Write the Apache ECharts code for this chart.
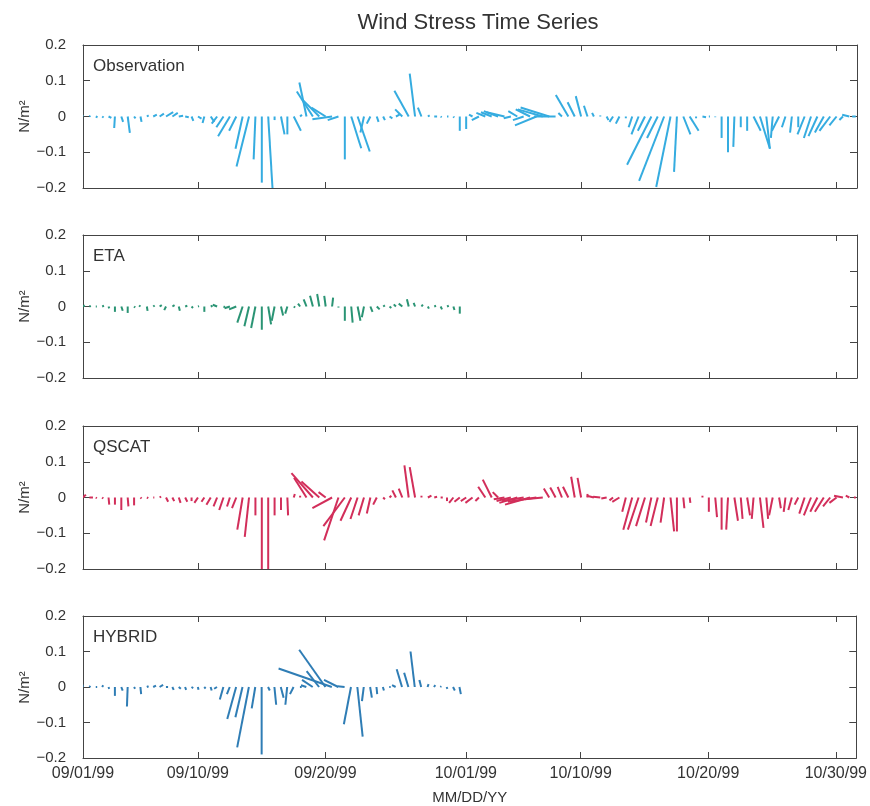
<!DOCTYPE html>
<html>
<head>
<meta charset="utf-8">
<script src="https://cdn.jsdelivr.net/npm/echarts@6/dist/echarts.min.js"></script>
<style>html,body{margin:0;padding:0;background:#fff}#chart{width:870px;height:806px}</style>
</head>
<body>
<div id="chart"></div>
<script>
// ---- data: wind stress components (u east, v north), N/m^2, sampled every 12 h from 09/01/99 ----
const stepDays = 0.5;
const xTickDays = [0, 9, 19, 30, 39, 49, 59];
const xTickLabels = ['09/01/99', '09/10/99', '09/20/99', '10/01/99', '10/10/99', '10/20/99', '10/30/99'];
const yTicks = [-0.2, -0.1, 0, 0.1, 0.2];
const panelNames = ['Observation', 'ETA', 'QSCAT', 'HYBRID'];

const obsU = [-0.007,0.003,0.005,0.004,0.008,-0.002,0.005,0.006,0.004,0.003,0.005,0.01,0.012,0.02,0.015,0.012,0.01,0.005,0.01,-0.005,0.01,-0.015,-0.02,-0.033,
  -0.02,-0.02,-0.035,-0.005,0.0,0.012,0.0,0.01,0.0,0.02,0.005,-0.02,-0.045,-0.05,-0.04,-0.055,-0.03,0.0,0.028,0.034,-0.01,-0.01,0.005,0.005,0.008,0.01,-0.02,-0.04,-0.015,-0.01,0.005,0.008,0.003,0.004,0.002,0.0,
  0.0,-0.01,-0.02,-0.025,-0.03,-0.04,-0.05,-0.02,-0.025,-0.03,-0.04,-0.06,-0.07,-0.08,-0.06,-0.01,-0.035,-0.02,-0.015,-0.01,-0.005,0.0,0.005,-0.01,-0.01,0.0,-0.01,-0.02,-0.02,-0.068,-0.03,-0.07,-0.04,-0.008,0.02,0.025,0.0,0.01,0.003,0.0,
  0.0,0.0,-0.003,0.0,0.0,0.02,0.028,0.01,-0.005,-0.02,-0.01,-0.005,0.0,-0.02,-0.02,-0.025,-0.025,-0.03,-0.02,-0.01,-0.02,-0.01];
const obsV = [0.01,0.002,-0.002,-0.003,-0.004,-0.032,-0.015,-0.046,-0.005,-0.015,0.003,0.005,0.008,0.012,0.01,0.002,-0.002,-0.012,-0.006,-0.018,-0.015,-0.02,-0.03,-0.055,
  -0.04,-0.09,-0.14,-0.12,-0.185,-0.2,-0.01,-0.05,-0.05,-0.04,0.005,0.095,0.07,0.05,0.025,-0.008,-0.01,-0.12,-0.089,-0.098,-0.045,-0.02,-0.015,-0.01,-0.005,0.005,0.02,0.072,0.12,0.025,0.003,0.0,-0.002,0.0,-0.003,-0.04,
  -0.035,0.005,-0.01,0.01,0.012,0.015,0.012,-0.005,0.015,-0.01,0.02,-0.025,0.02,0.025,0.0,0.01,0.06,0.04,0.057,0.03,0.01,0.003,-0.01,-0.015,-0.02,-0.005,-0.03,-0.05,-0.04,-0.135,-0.06,-0.18,-0.197,-0.155,-0.05,-0.04,-0.005,-0.002,0.0,-0.002,
  -0.06,-0.1,-0.085,-0.03,-0.04,-0.04,-0.09,-0.09,-0.06,-0.04,-0.03,-0.045,-0.03,-0.05,-0.06,-0.055,-0.045,-0.04,-0.025,-0.01,0.005,0.0];

const etaU = [0.005,0.004,0.003,0.005,0.002,0.0,0.004,0.0,0.003,-0.004,0.002,0.004,0.006,-0.005,0.006,0.003,0.006,0.004,0.003,0.0,0.005,-0.012,0.004,-0.015,
  -0.02,-0.015,-0.013,-0.012,0.0,0.008,-0.008,0.006,-0.006,0.004,-0.006,-0.008,-0.008,-0.006,-0.004,0.003,0.0,0.0,0.004,0.008,-0.006,0.006,0.008,0.005,0.005,-0.006,-0.01,-0.005,-0.004,0.004,0.003,0.005,0.004,0.005,0.003,0.0];
const etaV = [0.003,0.002,0.0,0.002,-0.005,-0.015,-0.012,-0.018,-0.003,0.003,-0.012,0.003,0.004,-0.01,0.004,-0.012,0.002,-0.004,0.001,-0.015,0.002,0.005,-0.002,-0.005,
  -0.008,-0.045,-0.055,-0.06,-0.065,-0.05,-0.04,-0.025,-0.02,-0.003,0.008,0.02,0.03,0.035,0.03,0.025,-0.003,-0.04,-0.045,-0.04,-0.03,-0.015,-0.008,0.003,-0.004,0.006,0.008,0.02,0.01,0.005,-0.006,0.002,-0.008,0.002,-0.01,-0.02];

const qscatU = [0.008,0.01,0.003,0.003,0.002,0.0,0.0,0.002,0.0,0.003,0.004,0.003,0.004,0.006,0.005,0.005,0.006,0.0,-0.01,-0.008,-0.012,-0.01,-0.012,-0.008,
  -0.012,-0.015,-0.012,0.0,0.0,0.0,0.0,0.0,0.002,0.003,0.0,-0.035,-0.06,-0.05,-0.02,-0.055,-0.04,-0.06,-0.03,-0.02,-0.015,-0.01,-0.01,0.005,0.005,-0.01,-0.01,-0.012,-0.015,0.0,0.01,0.008,0.006,0.0,-0.012,-0.015,
  -0.015,-0.02,-0.01,-0.02,-0.025,-0.015,-0.03,-0.04,-0.05,-0.06,-0.07,-0.08,-0.05,-0.015,-0.015,-0.012,-0.015,-0.01,-0.01,0.0,-0.02,-0.02,-0.015,-0.01,-0.02,-0.01,-0.025,-0.03,-0.025,-0.015,-0.02,-0.01,0.01,0.0,0.003,0.002,0.0,0.0,0.0,0.005,
  0.0,-0.005,0.01,0.005,0.008,-0.005,0.01,0.005,-0.01,0.005,-0.005,-0.01,-0.01,-0.015,-0.02,-0.02,-0.025,-0.02,-0.02,-0.025,-0.01,-0.005];
const qscatV = [0.008,0.0,-0.002,-0.003,-0.02,-0.02,-0.035,-0.025,-0.022,-0.003,-0.002,0.0,0.003,-0.012,-0.01,-0.015,-0.012,-0.01,-0.015,-0.012,-0.02,-0.025,-0.035,-0.025,
  -0.03,-0.09,-0.11,-0.05,-0.2,-0.2,-0.05,-0.035,-0.05,0.01,0.005,0.055,0.068,0.045,0.015,-0.03,-0.12,-0.08,-0.065,-0.06,-0.05,-0.045,-0.02,-0.005,0.005,0.02,0.025,0.09,0.085,0.005,0.005,0.002,0.0,-0.01,-0.015,-0.012,
  -0.01,-0.015,-0.01,0.03,0.05,0.015,-0.005,-0.01,-0.015,-0.01,-0.02,-0.012,-0.005,0.025,0.028,0.03,0.03,0.058,0.055,0.01,0.005,0.002,-0.003,-0.008,-0.012,-0.04,-0.09,-0.09,-0.08,-0.07,-0.08,-0.07,-0.095,-0.095,-0.03,-0.015,0.0,0.005,-0.04,-0.055,
  -0.09,-0.09,-0.065,-0.06,-0.05,-0.06,-0.085,-0.06,-0.05,-0.03,-0.04,-0.035,-0.02,-0.045,-0.05,-0.04,-0.04,-0.025,-0.015,0.005,0.005,0.0];

const hybU = [-0.005,0.003,0.004,0.003,0.002,0.0,0.004,-0.002,0.003,0.002,0.005,0.008,0.01,0.006,0.004,0.006,0.003,0.005,0.002,0.004,0.003,-0.008,-0.01,-0.008,
  -0.025,-0.02,-0.033,-0.01,0.0,0.005,0.005,0.008,-0.005,-0.01,0.005,-0.015,-0.03,-0.035,-0.074,-0.15,-0.04,-0.02,-0.02,0.015,-0.005,0.005,0.002,0.003,0.004,-0.01,-0.015,-0.012,-0.012,-0.005,0.003,0.004,0.003,0.002,0.005,0.004];
const hybV = [0.015,0.003,0.0,0.005,-0.005,-0.025,-0.01,-0.055,-0.005,-0.02,0.002,0.004,0.006,0.0,-0.008,-0.005,-0.008,-0.003,-0.008,-0.004,-0.01,-0.005,-0.035,-0.02,
  -0.09,-0.085,-0.17,-0.06,-0.19,-0.01,-0.05,-0.03,-0.05,-0.02,0.0,0.005,0.02,0.045,0.105,0.052,0.02,0.002,-0.105,-0.14,-0.04,-0.03,-0.02,-0.01,0.0,0.005,0.05,0.04,0.1,0.02,0.008,0.005,0.002,-0.005,-0.01,-0.02];

const seriesU = [obsU, etaU, qscatU, hybU];
const seriesV = [obsV, etaV, qscatV, hybV];
const colors = ['#35ace0', '#2a9474', '#d22e5a', '#2f7db5'];

// ---- layout ----
const gridTops = [45, 235, 426, 616];
const gridH = 143;
const fontFam = "'Liberation Sans', Arial, sans-serif";
const axisColor = '#444';
const xMax = 60.6;

const chart = echarts.init(document.getElementById('chart'));
const grids = [], xAxes = [], yAxes = [], series = [], titles = [], graphics = [];

titles.push({
  text: 'Wind Stress Time Series', left: 473, top: 7, textAlign: 'center',
  textStyle: {fontFamily: fontFam, fontSize: 22, fontWeight: 'normal', color: '#333'}
});

for (let k = 0; k < 4; k++) {
  grids.push({left: 83, right: 13, top: gridTops[k], height: gridH});
  titles.push({
    text: panelNames[k], left: 88, top: gridTops[k] + 8,
    textStyle: {fontFamily: fontFam, fontSize: 17, fontWeight: 'normal', color: '#333'}
  });
  graphics.push({
    type: 'text', x: 25, y: gridTops[k] + gridH / 2, rotation: Math.PI / 2,
    style: {text: 'N/m²', fontFamily: fontFam, fontSize: 15, fill: '#333', align: 'center', verticalAlign: 'middle'}
  });
  const last = k === 3;
  xAxes.push({
    type: 'value', gridIndex: k, min: 0, max: xMax, position: 'bottom',
    splitLine: {show: false},
    axisLine: {show: true, onZero: false, lineStyle: {color: axisColor, width: 1}},
    axisTick: {show: true, inside: true, length: 6, customValues: xTickDays, lineStyle: {color: axisColor}},
    axisLabel: {
      show: last, customValues: xTickDays, margin: 8,
      fontFamily: fontFam, fontSize: 16, color: '#333',
      formatter: v => xTickLabels[xTickDays.indexOf(v)] || ''
    },
    name: last ? 'MM/DD/YY' : '', nameLocation: 'middle', nameGap: 32,
    nameTextStyle: {fontFamily: fontFam, fontSize: 15, color: '#333'}
  });
  xAxes.push({
    type: 'value', gridIndex: k, min: 0, max: xMax, position: 'top',
    splitLine: {show: false},
    axisLine: {show: true, onZero: false, lineStyle: {color: axisColor, width: 1}},
    axisTick: {show: true, inside: true, length: 6, customValues: xTickDays, lineStyle: {color: axisColor}},
    axisLabel: {show: false}
  });
  yAxes.push({
    type: 'value', gridIndex: k, min: -0.2, max: 0.2, interval: 0.1, position: 'left',
    splitLine: {show: false},
    axisLine: {show: true, onZero: false, lineStyle: {color: axisColor, width: 1}},
    axisTick: {show: true, inside: true, length: 7, lineStyle: {color: axisColor}},
    axisLabel: {
      margin: 17, fontFamily: fontFam, fontSize: 15, color: '#333',
      formatter: v => { const r = Math.round(v * 10) / 10; return r === 0 ? '0' : r.toFixed(1).replace('-', '\u2212'); }
    }
  });
  yAxes.push({
    type: 'value', gridIndex: k, min: -0.2, max: 0.2, interval: 0.1, position: 'right',
    splitLine: {show: false},
    axisLine: {show: true, onZero: false, lineStyle: {color: axisColor, width: 1}},
    axisTick: {show: true, inside: true, length: 7, lineStyle: {color: axisColor}},
    axisLabel: {show: false}
  });

  const U = seriesU[k], V = seriesV[k];
  const data = U.map((u, i) => [i * stepDays, u, V[i]]);
  const col = colors[k];
  series.push({
    type: 'custom', name: panelNames[k],
    xAxisIndex: 2 * k, yAxisIndex: 2 * k,
    data: data,
    encode: {x: 0, y: 2},
    clip: true,
    renderItem: function (params, api) {
      const t = api.value(0), u = api.value(1), v = api.value(2);
      const p0 = api.coord([t, 0]);
      const p1 = api.coord([t, v]);
      const pxPerUnit = api.size([0, 1])[1];
      return {
        type: 'line',
        shape: {x1: p0[0], y1: p0[1], x2: p0[0] + u * pxPerUnit, y2: p1[1]},
        style: {stroke: col, lineWidth: 2}
      };
    }
  });
}

chart.setOption({
  backgroundColor: '#fff',
  animation: false,
  title: titles,
  graphic: graphics,
  grid: grids,
  xAxis: xAxes,
  yAxis: yAxes,
  series: series
});
</script>
</body>
</html>
